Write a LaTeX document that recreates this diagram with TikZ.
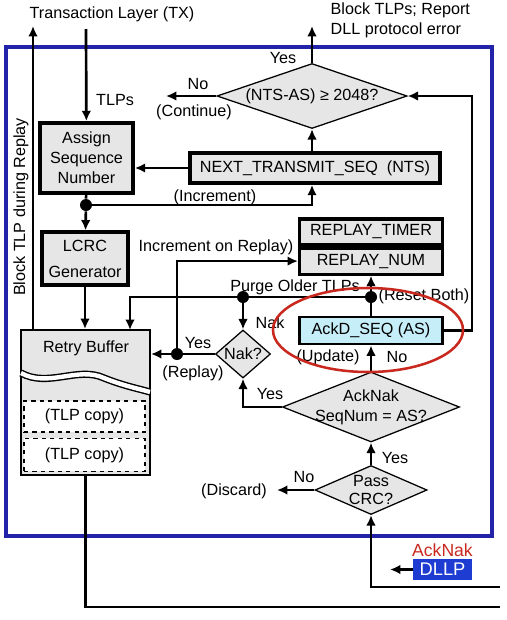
\documentclass[tikz,border=0pt]{standalone}
\usepackage{fontspec}
\setmainfont{Liberation Sans}
\usetikzlibrary{shapes.geometric, arrows.meta, positioning}
\usepackage{xcolor}
\definecolor{boxgray}{RGB}{230,230,230}
\definecolor{ascyan}{RGB}{198,238,248}
\definecolor{frameblue}{RGB}{35,35,170}
\definecolor{dllpblue}{RGB}{30,60,210}
\definecolor{ringred}{RGB}{200,40,30}

\begin{document}
\begin{tikzpicture}[
        x=0.025cm, y=-0.025cm,
        font=\fontsize{11.5}{14.2}\selectfont,
        % Box styles
        regbox/.style={rectangle, draw=black, line width=2.2pt, fill=boxgray, align=center, inner sep=0pt},
        seqbox/.style={regbox, fill=ascyan, line width=2pt},
        bufbox/.style={rectangle, draw=black, line width=1.4pt, fill=boxgray, inner sep=0pt},
        copybox/.style={rectangle, draw=black, line width=1pt, dashed, fill=white, inner sep=0pt},
        dia/.style={diamond, draw=black, line width=0.9pt, fill=boxgray, inner sep=0pt},
        dot/.style={circle, fill=black, inner sep=0pt, minimum size=3mm},
        lbl/.style={inner sep=1pt},
        line/.style={draw, line width=1.9pt},
        arrow/.style={draw, line width=1.9pt, -{Latex[length=2.6mm, width=2.4mm]}}
    ]
    \useasboundingbox (0,0) rectangle (507,620);

    % --- DATA LINK LAYER FRAME ---
    \draw [frameblue, line width=2.2pt] (6,47) rectangle (492,536);

    % --- TRANSMIT SIDE ---
    \node (txtitle) [lbl] at (112,14) {Transaction Layer (TX)};
    \node (blocktlp) [lbl, anchor=west, align=left] at (329,20) {Block TLPs; Report\\DLL protocol error};
    \node (assign) [regbox, line width=2.6pt, minimum width=2.325cm, minimum height=1.75cm] at (86.5,158) {Assign\\Sequence\\Number};
    \node (lcrc) [regbox, minimum width=2.15cm, minimum height=1.325cm, align=center, font=\fontsize{11.5}{18.5}\selectfont] at (85,258.5) {LCRC\\Generator};
    \node (nts) [regbox, line width=2.6pt, minimum width=6.25cm, minimum height=0.75cm] at (315,168) {NEXT\_TRANSMIT\_SEQ\ \ (NTS)};
    \node (ntsq) [dia, minimum width=4.75cm, minimum height=1.625cm] at (312,96) {};
    \node (ntsqtxt) [lbl] at (ntsq) {(NTS-AS) ≥ 2048?};

    % --- RETRY BUFFER ---
    \node (retry) [bufbox, minimum width=3.225cm, minimum height=3.625cm] at (85.5,402.5) {};
    \node (retrytxt) [lbl] at (86,348) {Retry Buffer};
    \draw [line width=1pt, double=white, double distance=1.1mm] (21,373) .. controls (48,388) and (78,366) .. (104,378) .. controls (124,386) and (140,389) .. (150,392);
    \node (tlp1) [copybox, minimum width=3.025cm, minimum height=0.775cm] at (84.5,416.5) {(TLP copy)};
    \node (tlp2) [copybox, minimum width=3.025cm, minimum height=0.825cm, below=0.125cm of tlp1] {(TLP copy)};

    % --- RECEIVE SIDE ---
    \node (rtimer) [regbox, minimum width=3.575cm, minimum height=0.65cm] at (371,232) {REPLAY\_TIMER};
    \node (rnum) [regbox, minimum width=3.575cm, minimum height=0.65cm, below=0pt of rtimer] {REPLAY\_NUM};
    \node (ackd) [seqbox, minimum width=3.575cm, minimum height=0.675cm] at (371,330.5) {AckD\_SEQ (AS)};
    \node (nakq) [dia, minimum width=1.375cm, minimum height=1.2cm] at (243,354) {};
    \node (nakqtxt) [lbl] at (nakq) {Nak?};
    \node (ackq) [dia, minimum width=4.425cm, minimum height=1.75cm] at (371,407) {};
    \node (ackqtxt) [lbl, align=center] at (ackq) {AckNak\\SeqNum = AS?};
    \node (crcq) [dia, minimum width=2.8cm, minimum height=1.225cm] at (371,490) {};
    \node (crcqtxt) [lbl, align=center, font=\fontsize{11.5}{13}\selectfont] at (crcq) {Pass\\CRC?};
    \node (dllp) [rectangle, fill=dllpblue, text=white, minimum width=1.475cm, minimum height=0.525cm, inner sep=0pt, font=\fontsize{13}{14}\selectfont] at (442.5,569.5) {DLLP};
    \node (acknaklbl) [lbl, text=ringred, above=0pt of dllp, font=\fontsize{12.5}{14}\selectfont] {AckNak};

    % --- JUNCTION DOTS AND FREE ENDS ---
    \node (incdot) [dot] at (86,205) {};
    \node (purgedot) [dot] at (243,297) {};
    \node (resetdot) [dot] at (371,297) {};
    \node (replaydot) [dot] at (177,354) {};
    \coordinate (txin) at (86,29);
    \coordinate (blockout) at (312,26);
    \coordinate (blockup) at (33,26);
    \coordinate (contout) at (166,96);
    \coordinate (purgein) at (130,330);
    \coordinate (rtrail) at (472,0);
    \coordinate (discard) at (277,490);
    \coordinate (dllpdir) at (390,569.5);
    \coordinate (linkin) at (500,587);
    \coordinate (linkout) at (500,607);

    % --- CONNECTORS ---
    \draw [arrow] (txin) -- (assign);
    \draw [arrow] (nts.west) -- (nts.west -| assign.east);
    \draw [arrow] (ntsq.south |- nts.north) -- (ntsq.south);
    \draw [arrow] (ntsq.north) -- (blockout);
    \draw [arrow] (ntsq.west) -- (contout);
    \draw [line] (assign) -- (incdot);
    \draw [arrow] (incdot) -- (lcrc);
    \draw [arrow] (incdot) -| (ntsq.south |- nts.south);
    \draw [arrow] (lcrc) -- (lcrc |- retry.north);
    \draw [arrow] (blockup |- retry.north) -- (blockup);

    \draw [arrow] (resetdot) -- (purgedot) -| (purgein);
    \draw [arrow] (purgedot) -- (nakq.north);
    \draw [arrow] (ackd.north) -- (rnum.south);
    \draw [arrow] (ackd.east) -| (rtrail |- ntsq.east) -- (ntsq.east);
    \draw [arrow] (nakq.west) -- (nakq.west -| retry.east);
    \draw [arrow] (replaydot) |- (rnum.west);
    \draw [arrow] (ackq.north) -- (ackd.south);
    \draw [arrow] (ackq.west) -| (nakq.south);
    \draw [arrow] (crcq.north) -- (ackq.south);
    \draw [arrow] (crcq.west) -- (discard);
    \draw [arrow] (linkin) -| (crcq.south);
    \draw [arrow] (dllp.west) -- (dllpdir);
    \draw [line] (retry.south) |- (linkout);

    % --- LABELS ---
    \node (tlpslbl) [lbl] at (115,100) {TLPs};
    \node (yes1) [lbl] at (283,58) {Yes};
    \node (no1) [lbl] at (198,84) {No};
    \node (contlbl) [lbl] at (194,112) {(Continue)};
    \node (inclbl) [lbl] at (215,197) {(Increment)};
    \node (blocklbl) [lbl, rotate=90] at (21,207) {Block TLP during Replay};
    \node (incrlbl) [lbl] at (216,247) {Increment on Replay)};
    \node (purgelbl) [lbl] at (295,287) {Purge Older TLPs};
    \node (resetlbl) [lbl] at (424,296) {(Reset Both)};
    \node (naklbl) [lbl] at (270,323) {Nak};
    \node (yes2) [lbl] at (198,343) {Yes};
    \node (replaylbl) [lbl] at (193,373) {(Replay)};
    \node (updlbl) [lbl] at (328,357) {(Update)};
    \node (no2) [lbl] at (397,357) {No};
    \node (yes3) [lbl] at (270,394) {Yes};
    \node (yes4) [lbl] at (395,458) {Yes};
    \node (no3) [lbl] at (304,477) {No};
    \node (discardlbl) [lbl] at (234,491) {(Discard)};

    % --- HIGHLIGHT RING ---
    \node (ring) [ellipse, draw=ringred, line width=1.8pt, minimum width=4.75cm, minimum height=2.1cm] at (368,330) {};

\end{tikzpicture}
\end{document}
